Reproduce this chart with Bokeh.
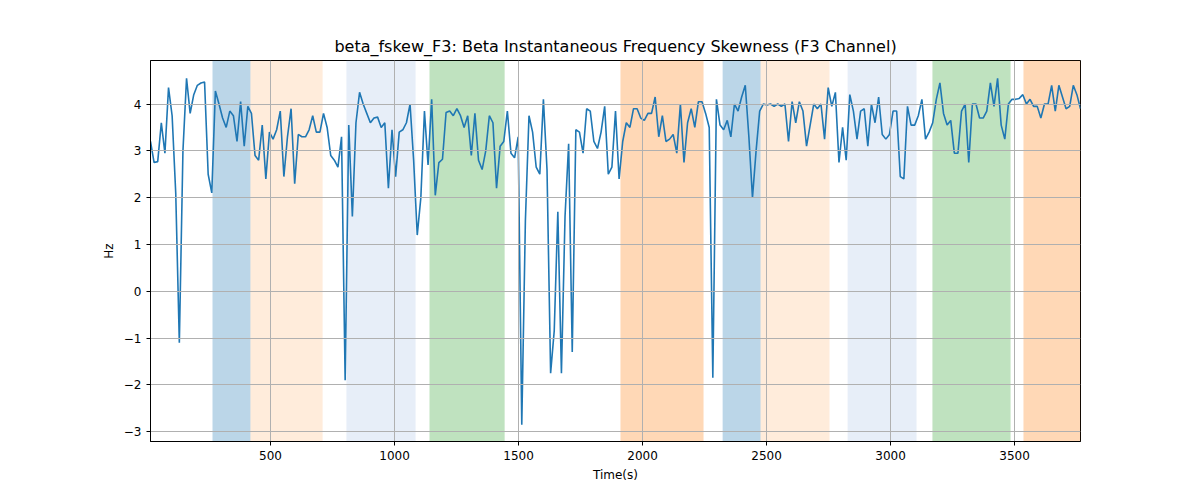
import numpy as np
from bokeh.plotting import figure
from bokeh.models import BoxAnnotation, Range1d, FixedTicker
from bokeh.embed import file_html
from bokeh.resources import INLINE

values = [3.2,2.75,2.77,3.6,2.95,4.35,3.75,2.1,-1.1,3.0,4.55,3.8,4.2,4.4,4.45,4.47,2.5,2.1,4.28,4.0,3.7,3.5,3.85,3.75,3.2,4.05,3.1,3.95,3.8,2.9,2.8,3.55,2.4,3.4,3.25,3.45,3.85,2.45,3.3,3.9,2.3,3.35,3.3,3.3,3.45,3.75,3.4,3.4,3.8,3.5,2.9,2.8,2.65,3.3,-1.9,3.55,1.6,3.6,4.25,4.0,3.8,3.6,3.7,3.72,3.5,3.6,2.2,3.45,2.45,3.4,3.45,3.6,4.0,2.8,1.2,2.0,3.85,2.7,4.1,2.05,2.75,2.82,3.82,3.85,3.75,3.9,
          3.75,3.5,3.75,2.9,3.8,2.8,2.6,3.0,3.75,3.6,2.2,3.1,3.2,3.85,2.95,2.85,3.3,-2.85,1.5,3.75,3.4,2.65,2.5,4.1,2.6,-1.75,-0.85,1.7,-1.75,1.6,3.15,-1.3,3.45,3.4,2.95,3.9,3.85,3.2,3.05,3.4,3.95,2.5,2.65,3.85,2.4,3.2,3.6,3.5,3.9,3.9,3.7,3.65,3.8,3.8,4.15,3.3,3.75,3.2,3.25,3.35,2.95,4.0,2.75,3.6,3.9,3.5,4.05,4.05,3.8,3.5,-1.85,4.1,3.55,3.45,3.65,3.3,4.0,3.85,4.15,4.4,3.3,2.0,3.0,3.85,4.0,3.98,4.0,
          3.95,4.0,3.95,4.0,3.2,4.05,3.6,4.05,3.85,3.1,3.55,4.0,3.9,4.0,3.25,4.35,3.95,4.25,2.75,3.5,2.8,4.2,3.85,3.25,3.85,3.9,3.1,4.0,3.6,4.15,3.35,3.25,3.35,3.85,3.85,2.45,2.4,3.95,3.55,3.55,3.75,4.1,3.25,3.4,3.6,4.1,4.45,3.8,3.55,3.65,2.95,2.95,3.85,4.0,2.75,4.0,4.0,3.7,3.7,3.85,4.45,3.95,4.55,3.55,3.25,4.0,4.1,4.1,4.12,4.2,4.0,4.1,3.95,3.95,3.7,4.0,4.0,4.4,3.85,4.4,4.15,3.9,3.95,4.4,4.2,3.9]
t_start, t_end = 16, 3766
times = np.linspace(t_start, t_end, len(values))

span_starts = [266, 419, 806, 1141, 1911, 2323, 2476, 2827, 3169, 3536]
span_ends   = [419, 710, 1085, 1444, 2246, 2476, 2754, 3105, 3484, 3766]
span_colors = ["#1f77b4", "#ff7f0e", "#aec7e8", "#2ca02c", "#ff7f0e", "#1f77b4", "#ff7f0e", "#aec7e8", "#2ca02c", "#ff7f0e"]
span_alphas = [0.3, 0.15, 0.3, 0.3, 0.3, 0.3, 0.15, 0.3, 0.3, 0.3]

p = figure(width=1184, height=484, output_backend="svg", toolbar_location=None,
           title="beta_fskew_F3: Beta Instantaneous Frequency Skewness (F3 Channel)",
           x_axis_label="Time(s)", y_axis_label="Hz",
           min_border_left=150, min_border_right=104, min_border_top=60, min_border_bottom=34)
p.x_range = Range1d(t_start, t_end)
p.y_range = Range1d(-3.21, 4.93)
p.title.align = "center"
p.title.text_font_size = "12pt"
p.title.text_font_style = "normal"
p.title.text_font = "DejaVu Sans"
p.title.text_color = "black"
for ax in (p.xaxis, p.yaxis):
    ax.axis_label_text_font_style = "normal"
    ax.axis_label_text_font = "DejaVu Sans"
    ax.axis_label_text_color = "black"
    ax.major_label_text_font = "DejaVu Sans"
    ax.major_label_text_color = "black"
    ax.major_label_text_font_size = "9pt"
    ax.axis_label_text_font_size = "9pt"
    ax.minor_tick_line_color = None
    ax.major_tick_out = 4
    ax.major_tick_in = 0
    ax.axis_line_color = "black"
    ax.major_tick_line_color = "black"
p.xaxis.ticker = FixedTicker(ticks=[500,1000,1500,2000,2500,3000,3500])
p.yaxis.ticker = FixedTicker(ticks=[-3,-2,-1,0,1,2,3,4])
p.outline_line_color = "black"
p.xgrid.grid_line_color = "#b0b0b0"
p.ygrid.grid_line_color = "#b0b0b0"
p.xgrid.level = "glyph"
p.ygrid.level = "glyph"

for s, e, c, a in zip(span_starts, span_ends, span_colors, span_alphas):
    p.add_layout(BoxAnnotation(left=s, right=e, fill_color=c, fill_alpha=a, line_alpha=0, level="underlay"))

p.line(times, values, line_color="#1f77b4", line_width=1.6)

open("out.html", "w").write(file_html(p, INLINE))
